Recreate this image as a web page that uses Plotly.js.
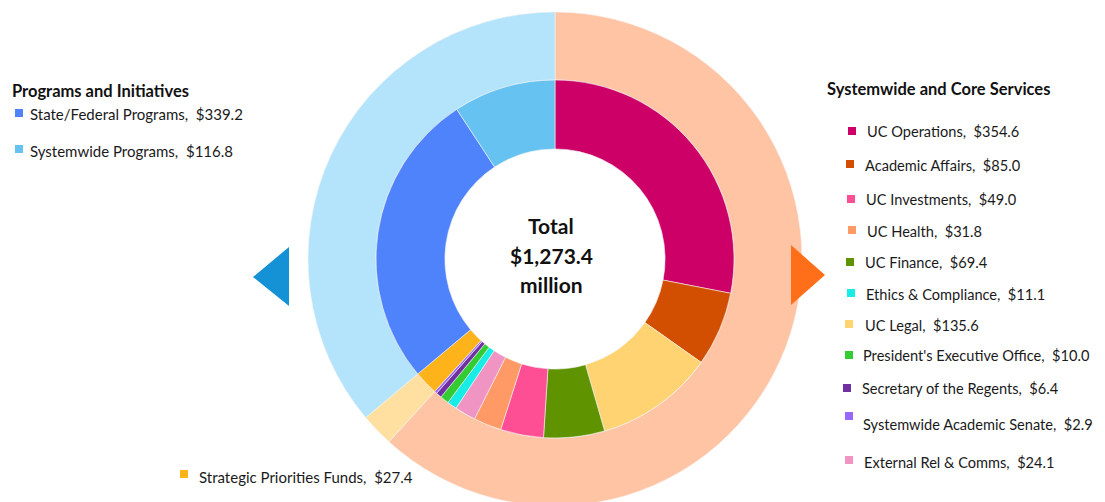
<!DOCTYPE html>
<html><head><meta charset="utf-8">
<script src="https://cdn.plot.ly/plotly-3.0.1.min.js"></script>
<style>html,body{margin:0;padding:0;overflow:hidden;background:#fff}#chart{width:1105px;height:520px}</style>
</head><body><div id="chart"></div>
<script>
// Outer ring: groups
const groupLabels = ["Systemwide and Core Services", "Strategic Priorities Funds", "Programs and Initiatives"];
const groupValues = [779.9, 27.4, 456.0];
const groupColors = ["#FFC4A3", "#FFE0A0", "#B4E4FB"];

// Inner ring: items (clockwise from top)
const itemLabels = ["UC Operations", "Academic Affairs", "UC Legal", "UC Finance", "UC Investments", "UC Health",
  "External Rel & Comms", "Ethics & Compliance", "President's Executive Office", "Secretary of the Regents",
  "Systemwide Academic Senate", "Strategic Priorities Funds", "State/Federal Programs", "Systemwide Programs"];
const itemValues = [354.6, 85.0, 135.6, 69.4, 49.0, 31.8, 24.1, 11.1, 10.0, 6.4, 2.9, 27.4, 339.2, 116.8];
const itemColors = ["#CC0066", "#D24E00", "#FFD372", "#5F9400", "#FF4F94", "#FF9966", "#F094C4", "#17EDE6",
  "#33CC33", "#7030A0", "#9966FF", "#FFB31A", "#4F83FC", "#66C2F0"];

// Legend texts
const rightLegend = [
  ["UC Operations,  $354.6", "#CC0066"],
  ["Academic Affairs,  $85.0", "#D24E00"],
  ["UC Investments,  $49.0", "#FF4F94"],
  ["UC Health,  $31.8", "#FF9966"],
  ["UC Finance,  $69.4", "#5F9400"],
  ["Ethics & Compliance,  $11.1", "#17EDE6"],
  ["UC Legal,  $135.6", "#FFD372"],
  ["President's Executive Office,  $10.0", "#33CC33"],
  ["Secretary of the Regents,  $6.4", "#7030A0"],
  ["Systemwide Academic Senate,  $2.9", "#9966FF"],
  ["External Rel & Comms,  $24.1", "#F094C4"]
];
const leftLegend = [
  ["State/Federal Programs,  $339.2", "#4F83FC"],
  ["Systemwide Programs,  $116.8", "#66C2F0"]
];
const bottomLegend = [["Strategic Priorities Funds,  $27.4", "#FFB31A"]];
const centerLines = ["Total", "$1,273.4", "million"];

// layout positions (pixels)
const W = 1105, H = 520;
const rightPos = [[848,131,865,131],[846,164,863,165],[847,199,864,199],[848,230,865,231],[846,262,863,262],
  [847,293,864,294],[845,324,863,325],[845,355,861,355],[843,388,860,388],[845,416,861,424],[845,460,862,462]];
const leftPos = [[15,113,28,114],[15,149,28,151]];
const bottomPos = [[180,474,197,477]];

const FONT = "Lato, 'Open Sans', sans-serif";
const annotations = [];
const shapes = [];
function addItem(label, color, p, size) {
  shapes.push({type:"rect", xref:"x", yref:"y", x0:p[0], x1:p[0]+8, y0:p[1]-4, y1:p[1]+4,
    fillcolor:color, line:{width:0}, layer:"above"});
  annotations.push({xref:"x", yref:"y", x:p[2], y:p[3], text:label, showarrow:false,
    xanchor:"left", yanchor:"middle", font:{family:FONT, size:size, color:"#1a1a1a"}});
}
rightLegend.forEach((r,i)=>addItem(r[0], r[1], rightPos[i], 14.6));
leftLegend.forEach((r,i)=>addItem(r[0], r[1], leftPos[i], 15));
bottomLegend.forEach((r,i)=>addItem(r[0], r[1], bottomPos[i], 15));
annotations.push({xref:"x", yref:"y", x:10, y:91, text:"<b>Programs and Initiatives</b>", showarrow:false,
  xanchor:"left", yanchor:"middle", font:{family:FONT, size:16.5, color:"#111"}});
annotations.push({xref:"x", yref:"y", x:825, y:89, text:"<b>Systemwide and Core Services</b>", showarrow:false,
  xanchor:"left", yanchor:"middle", font:{family:FONT, size:16.5, color:"#111"}});
[225,255,284].forEach((y,i)=>annotations.push({xref:"x", yref:"y", x:551, y:y, text:"<b>"+centerLines[i]+"</b>",
  showarrow:false, xanchor:"center", yanchor:"middle", font:{family:FONT, size:21, color:"#111"}}));

// arrows
shapes.push({type:"path", xref:"x", yref:"y", path:"M 253 277 L 289 247 L 289 306 Z",
  fillcolor:"#1591D6", line:{width:0}, layer:"above"});
shapes.push({type:"path", xref:"x", yref:"y", path:"M 791 245 L 825 275 L 791 305 Z",
  fillcolor:"#FF6F1A", line:{width:0}, layer:"above"});

function dx(a,b){return [a/W, b/W];}
function dy(top,bottom){return [1-bottom/H, 1-top/H];}

const data = [
  {type:"pie", labels:groupLabels, values:groupValues, marker:{colors:groupColors, line:{color:"#f4f4f4", width:0.6}},
   sort:false, direction:"clockwise", rotation:0, hole:0.725, textinfo:"none", hoverinfo:"label+value",
   domain:{x:dx(308,802), y:dy(12,506)}, showlegend:false},
  {type:"pie", labels:itemLabels, values:itemValues, marker:{colors:itemColors, line:{color:"#f4f4f4", width:0.6}},
   sort:false, direction:"clockwise", rotation:0, hole:0.615, textinfo:"none", hoverinfo:"label+value",
   domain:{x:dx(376,734), y:dy(80,438)}, showlegend:false}
];
const layout = {
  width:W, height:H, margin:{l:0,r:0,t:0,b:0}, paper_bgcolor:"#fff", plot_bgcolor:"rgba(0,0,0,0)",
  showlegend:false,
  xaxis:{range:[0,W], visible:false, fixedrange:true},
  yaxis:{range:[H,0], visible:false, fixedrange:true},
  annotations:annotations, shapes:shapes
};
Plotly.newPlot("chart", data, layout, {displayModeBar:false, staticPlot:true});
</script></body></html>
